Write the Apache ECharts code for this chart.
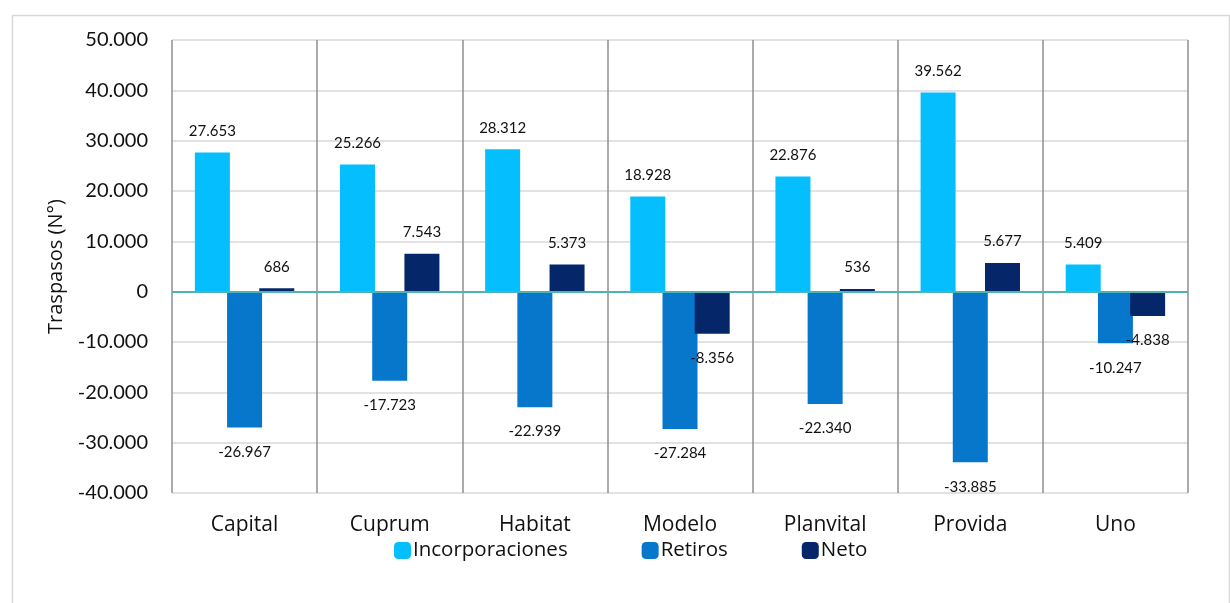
<!DOCTYPE html>
<html>
<head>
<meta charset="utf-8">
<script src="https://cdn.jsdelivr.net/npm/echarts@6/dist/echarts.min.js"></script>
<style>
html,body{margin:0;padding:0;background:#fff;}
#c{width:1230px;height:603px;}
</style>
</head>
<body>
<div id="c"></div>
<script>
const categories = ['Capital','Cuprum','Habitat','Modelo','Planvital','Provida','Uno'];
const incorporaciones = [27653, 25266, 28312, 18928, 22876, 39562, 5409];
const retiros = [-26967, -17723, -22939, -27284, -22340, -33885, -10247];
const neto = [686, 7543, 5373, -8356, 536, 5677, -4838];
const seriesNames = ['Incorporaciones','Retiros','Neto'];
const colors = ['#05BEFD','#0777CB','#06266A'];
const FONT = 'Lato';
const TFONT = 'Open Sans';

function fmt(v){
  const neg = v < 0;
  let s = Math.abs(Math.round(v)).toString();
  s = s.replace(/\B(?=(\d{3})+(?!\d))/g, '.');
  return (neg ? '-' : '') + s;
}
function toData(arr){
  return arr.map(v => ({
    value: v,
    label: { position: v < 0 ? 'bottom' : 'top', distance: v < 0 ? 17 : 14 }
  }));
}
function mkSeries(name, arr, color, idx){
  const s = {
    name: name,
    type: 'bar',
    data: toData(arr),
    barWidth: 35,
    barGap: '-8%',
    itemStyle: { color: color },
    label: { show: true, formatter: p => fmt(p.value), fontFamily: FONT, fontSize: 15, color: '#111' }
  };
  if (idx === 0) {
    s.markLine = {
      silent: true, symbol: 'none', label: { show: false },
      lineStyle: { color: '#4DB3B3', width: 2, type: 'solid' },
      data: [{ yAxis: 0 }]
    };
  }
  return s;
}

const chart = echarts.init(document.getElementById('c'));
chart.setOption({
  animation: false,
  textStyle: { fontFamily: FONT },
  graphic: [{
    type: 'rect', left: 10, top: 13,
    shape: { width: 1217, height: 600 },
    style: { fill: 'none', stroke: '#d9d9d9', lineWidth: 1.5 },
    silent: true, z: -10
  }],
  grid: { left: 172, right: 42, top: 40, bottom: 110 },
  legend: {
    data: seriesNames, bottom: 37, left: 389,
    itemWidth: 17, itemHeight: 17, itemGap: 74,
    icon: 'roundRect',
    textStyle: { fontFamily: TFONT, fontSize: 20.5, color: '#111', padding: [0,0,0,-3] }
  },
  xAxis: {
    type: 'category', data: categories,
    axisLine: { show: false }, axisTick: { show: false },
    axisLabel: { fontFamily: TFONT, fontSize: 21, color: '#111', margin: 22 },
    splitLine: { show: true, lineStyle: { color: '#8f8f8f', width: 1.5 } }
  },
  yAxis: {
    type: 'value', min: -40000, max: 50000, interval: 10000,
    name: 'Traspasos (N°)', nameLocation: 'middle', nameGap: 106, nameRotate: 90,
    nameTextStyle: { fontFamily: TFONT, fontSize: 20, color: '#111' },
    axisLine: { show: false }, axisTick: { show: false },
    axisLabel: { fontFamily: FONT, fontSize: 20, color: '#111', margin: 24, formatter: v => fmt(v) },
    splitLine: { lineStyle: { color: '#d9d9d9', width: 1.5 } }
  },
  series: [
    mkSeries(seriesNames[0], incorporaciones, colors[0], 0),
    mkSeries(seriesNames[1], retiros, colors[1], 1),
    mkSeries(seriesNames[2], neto, colors[2], 2)
  ]
});
</script>
</body>
</html>
